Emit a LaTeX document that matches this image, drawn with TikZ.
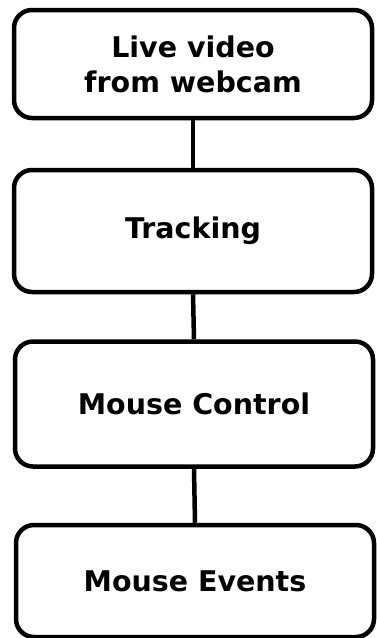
\documentclass[tikz,border=0pt]{standalone}
\usepackage{fontspec}
\setmainfont{DejaVu Sans}
\usepackage{tikz}
\usetikzlibrary{positioning}

\tikzset{
  stage/.style={draw=black, line width=4.5pt, rounded corners=18pt, fill=white,
    minimum width=358pt, align=center, inner sep=0pt,
    font=\bfseries\fontsize{28.5}{35}\selectfont},
  link/.style={line width=4.5pt}
}

\begin{document}
\begin{tikzpicture}[x=1pt,y=-1pt]
		\useasboundingbox (0,0) rectangle (376,638);
		% the four stages, top to bottom
		\node[stage, minimum height=108pt] (webcam) at (193,64) {Live video\\from webcam};
		\node[stage, minimum height=122pt] (tracking) at (193,231) {Tracking};
		\node[stage, minimum height=125pt] (control) at (194,404) {Mouse Control};
		\node[stage, minimum height=112pt] (events) at (195,581) {Mouse Events};
		
		% connectors between the stages
		\draw[link] (webcam.south) -- (tracking.north);
		\draw[link] (tracking.south) -- (control.north);
		\draw[link] (control.south) -- (events.north);
	\end{tikzpicture}
\end{document}
